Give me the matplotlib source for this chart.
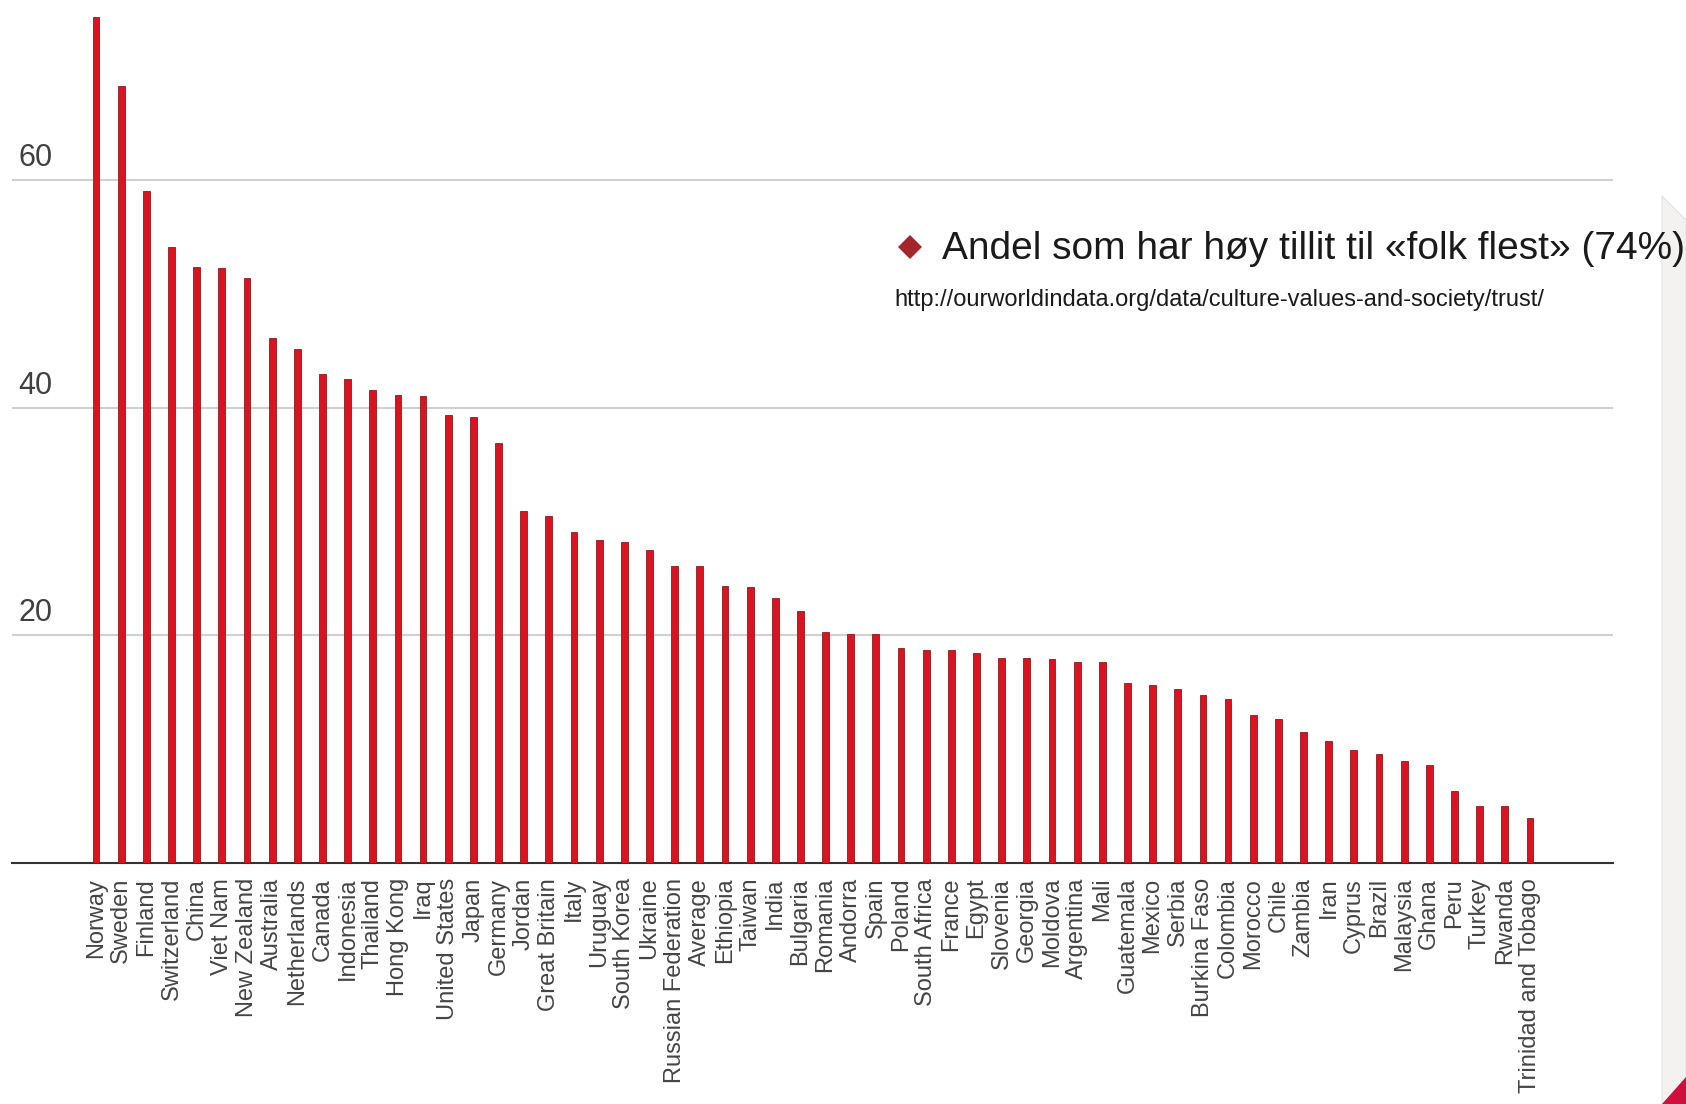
import matplotlib.pyplot as plt
from matplotlib.patches import Polygon
import numpy as np

countries = ["Norway", "Sweden", "Finland", "Switzerland", "China", "Viet Nam",
             "New Zealand", "Australia", "Netherlands", "Canada", "Indonesia",
             "Thailand", "Hong Kong", "Iraq", "United States", "Japan", "Germany",
             "Jordan", "Great Britain", "Italy", "Uruguay", "South Korea", "Ukraine",
             "Russian Federation", "Average", "Ethiopia", "Taiwan", "India",
             "Bulgaria", "Romania", "Andorra", "Spain", "Poland", "South Africa",
             "France", "Egypt", "Slovenia", "Georgia", "Moldova", "Argentina", "Mali",
             "Guatemala", "Mexico", "Serbia", "Burkina Faso", "Colombia", "Morocco",
             "Chile", "Zambia", "Iran", "Cyprus", "Brazil", "Malaysia", "Ghana",
             "Peru", "Turkey", "Rwanda", "Trinidad and Tobago"]
trust = [74.4, 68.3, 59.1, 54.1, 52.4, 52.3, 51.4, 46.1, 45.2, 43.0, 42.5,
         41.6, 41.1, 41.0, 39.4, 39.2, 36.9, 30.9, 30.5, 29.1, 28.4, 28.2, 27.5,
         26.1, 26.1, 24.3, 24.2, 23.3, 22.1, 20.3, 20.1, 20.1, 18.9, 18.7,
         18.7, 18.4, 18.0, 18.0, 17.9, 17.6, 17.6, 15.75, 15.6, 15.3, 14.7, 14.4,
         13.0, 12.6, 11.5, 10.7, 9.9, 9.5, 8.9, 8.6, 6.3, 5.0, 5.0, 3.9]
yticks = [20, 40, 60]

title = "Andel som har høy tillit til «folk flest» (74%)"
source = "http://ourworldindata.org/data/culture-values-and-society/trust/"

plt.rcParams['font.family'] = ['Liberation Sans', 'DejaVu Sans']

W, H = 1686, 1104
fig = plt.figure(figsize=(W / 100, H / 100), dpi=100)
fig.patch.set_facecolor('white')


def fpos(x, y):
    # figure pixel (from top-left) -> figure fraction
    return (x / W, 1 - y / H)


ax = fig.add_axes([12 / W, 1 - 862.5 / H, 1601 / W, 862.5 / H])
x = np.arange(len(countries))
ax.bar(x, trust, width=0.27, color='#db121f', edgecolor='#8e1a1e',
       linewidth=0.6, zorder=3)
ax.set_xlim(-3.34, len(countries) - 1 + 3.30)
ax.set_ylim(0, 862.5 / 11.37)

ax.set_yticks(yticks)
ax.yaxis.grid(True, color='#d0d0d0', linewidth=1.5)
ax.set_axisbelow(True)
ax.tick_params(axis='y', length=0, labelleft=False)
for v in yticks:
    ax.annotate(str(v), xy=(0.004, v), xycoords=('axes fraction', 'data'),
                xytext=(0, 10), textcoords='offset points', fontsize=22,
                color='#404040', va='baseline', ha='left')

ax.set_xticks(x)
ax.set_xticklabels(countries, rotation=90, fontsize=17, color='#444444')
ax.tick_params(axis='x', length=0, pad=11)
for s in ['top', 'right', 'left']:
    ax.spines[s].set_visible(False)
ax.spines['bottom'].set_color('#333333')
ax.spines['bottom'].set_linewidth(1.5)
ax.patch.set_alpha(0)

# slide decoration on the right edge
panel = Polygon([fpos(1662, 1104), fpos(1662, 196), fpos(1686, 220), fpos(1686, 1104)],
                closed=True, transform=fig.transFigure, facecolor='#f3f2f1',
                edgecolor='#dddddd', linewidth=0.6, zorder=1)
fig.add_artist(panel)
corner = Polygon([fpos(1662, 1104), fpos(1686, 1104), fpos(1686, 1077)],
                 closed=True, transform=fig.transFigure, facecolor='#d20f3c',
                 edgecolor='none', zorder=2)
fig.add_artist(corner)

# bullet + title text
bullet = Polygon([fpos(910, 235), fpos(922, 247), fpos(910, 259), fpos(898, 247)],
                 closed=True, transform=fig.transFigure, facecolor='#a4262c',
                 edgecolor='none', zorder=4)
fig.add_artist(bullet)
fig.text(*fpos(942, 259), title, fontsize=28, color='#1a1a1a',
         va='baseline', ha='left', zorder=5)
fig.text(*fpos(894, 306), source, fontsize=17, color='#1a1a1a',
         va='baseline', ha='left', zorder=5)

fig.savefig("out.png", dpi=100)
